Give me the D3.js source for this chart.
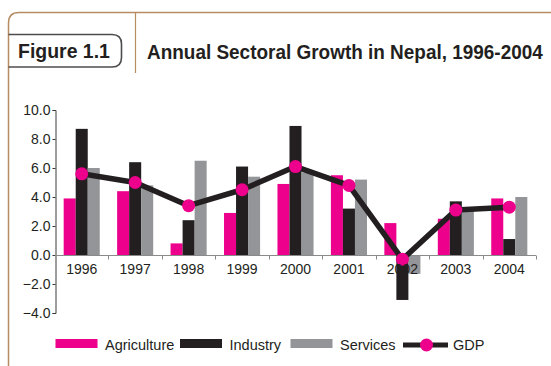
<!DOCTYPE html>
<html>
<head>
<meta charset="utf-8">
<script src="https://cdn.jsdelivr.net/npm/d3@7"></script>
<style>
  html, body { margin: 0; padding: 0; background: #fff; }
  svg { display: block; }
  .narrow { font-family: "Liberation Sans Narrow", "Arial Narrow", "Liberation Sans", Arial, sans-serif; }
  .plain { font-family: "Liberation Sans", Arial, sans-serif; }
</style>
</head>
<body>
<svg id="chart" width="551" height="366"></svg>
<script>
// Annual sectoral growth rates (%), Nepal
const years = ["1996", "1997", "1998", "1999", "2000", "2001", "2002", "2003", "2004"];
const agriculture = [3.9, 4.4, 0.8, 2.9, 4.9, 5.5, 2.2, 2.5, 3.9];
const industry    = [8.7, 6.4, 2.4, 6.1, 8.9, 3.2, -3.1, 3.7, 1.1];
const services    = [6.0, 4.8, 6.5, 5.4, 5.7, 5.2, -1.3, 3.1, 4.0];
const gdp         = [5.6, 5.0, 3.4, 4.5, 6.1, 4.8, -0.3, 3.1, 3.3];
const yTicks = [-4, -2, 0, 2, 4, 6, 8, 10];

const seriesNames = ["Agriculture", "Industry", "Services"];
const seriesValues = [agriculture, industry, services];
const colors = { Agriculture: "#ec008c", Industry: "#231f20", Services: "#939598", GDP: "#231f20" };

const frameColor = "#b68c60";
const ink = "#231f20";

const svg = d3.select("#chart");

// Heading text squeezed horizontally to a fixed width (condensed look)
function condensedText(parent, str, x0, y0, size, width) {
  const g = parent.append("g");
  const t = g.append("text").attr("class", "narrow")
    .attr("font-size", size).attr("font-weight", "bold").attr("fill", ink)
    .text(str);
  const natural = t.node().getComputedTextLength();
  const sx = Math.min(1, width / natural);
  g.attr("transform", `translate(${x0},${y0}) scale(${sx},1)`);
  return g;
}

// ---- frame and heading ----
const frame = svg.append("g");
frame.append("path")
  .attr("d", "M8.5,366 L8.5,23 Q8.5,12.5 19,12.5 L551,12.5")
  .attr("fill", "none").attr("stroke", frameColor).attr("stroke-width", 1.5);
frame.append("line")
  .attr("x1", 135.5).attr("x2", 135.5).attr("y1", 12.5).attr("y2", 73)
  .attr("stroke", frameColor).attr("stroke-width", 1.2);
frame.append("path")
  .attr("d", "M8.5,34.5 L112,34.5 Q121.5,34.5 121.5,44 L121.5,57.5 Q121.5,67 112,67 L8.5,67")
  .attr("fill", "none").attr("stroke", "#4d4d4f").attr("stroke-width", 1.6);
condensedText(frame, "Figure 1.1", 18, 58, 20, 92);
condensedText(frame, "Annual Sectoral Growth in Nepal, 1996-2004", 147, 58.5, 19.5, 396);

// ---- scales ----
const x = d3.scaleBand().domain(years).range([55, 536]);
const inner = d3.scaleBand().domain(seriesNames)
  .range([0, x.bandwidth() * 0.675]);
const groupOffset = (x.bandwidth() - inner.range()[1]) / 2;
const y = d3.scaleLinear().domain([-4, 10]).range([313, 110]);

const plot = svg.append("g");

// ---- bars ----
seriesNames.forEach((name, si) => {
  plot.append("g").selectAll("rect")
    .data(seriesValues[si].map((v, i) => ({ year: years[i], v })))
    .join("rect")
    .attr("x", d => x(d.year) + groupOffset + inner(name))
    .attr("width", inner.bandwidth())
    .attr("y", d => y(Math.max(0, d.v)))
    .attr("height", d => Math.abs(y(d.v) - y(0)))
    .attr("fill", colors[name]);
});

// ---- y axis ----
const yAxis = plot.append("g")
  .attr("transform", "translate(55.5,0)")
  .call(d3.axisLeft(y).tickValues(yTicks).tickFormat(d3.format(".1f")).tickSize(3).tickPadding(2));
yAxis.select(".domain").attr("stroke", "#3a3a3a");
yAxis.selectAll(".tick line").attr("stroke", "#3a3a3a");
yAxis.selectAll("text").attr("class", "plain").attr("font-size", 14).attr("fill", ink);

// ---- x axis along zero ----
const xAxisG = plot.append("g").attr("transform", `translate(0,${Math.round(y(0)) + 0.5})`);
xAxisG.append("line").attr("x1", 55).attr("x2", 536).attr("stroke", "#8a8a8a").attr("stroke-width", 1);
xAxisG.selectAll("line.tk")
  .data(years.slice(1).concat(["end"]))
  .join("line").attr("class", "tk")
  .attr("x1", (d, i) => Math.round(i < years.length - 1 ? x(d) : x.range()[1]) + 0.5)
  .attr("x2", (d, i) => Math.round(i < years.length - 1 ? x(d) : x.range()[1]) + 0.5)
  .attr("y1", 0).attr("y2", 4)
  .attr("stroke", "#8a8a8a");

// ---- GDP line ----
const line = d3.line()
  .x((d, i) => x(years[i]) + x.bandwidth() / 2)
  .y(d => y(d));
plot.append("path")
  .datum(gdp)
  .attr("d", line)
  .attr("fill", "none")
  .attr("stroke", colors.GDP)
  .attr("stroke-width", 5.5)
  .attr("stroke-linejoin", "round");
plot.append("g").selectAll("circle")
  .data(gdp)
  .join("circle")
  .attr("cx", (d, i) => x(years[i]) + x.bandwidth() / 2)
  .attr("cy", d => y(d))
  .attr("r", 6.5)
  .attr("fill", colors.Agriculture);

// ---- year labels ----
plot.append("g").selectAll("text")
  .data(years)
  .join("text")
  .attr("class", "plain")
  .attr("x", d => x(d) + x.bandwidth() / 2)
  .attr("y", 274)
  .attr("text-anchor", "middle")
  .attr("font-size", 14)
  .attr("fill", ink)
  .text(d => d);

// ---- legend ----
const legend = svg.append("g").attr("class", "plain");
const legendItems = [
  { name: "Agriculture", x: 55.5 },
  { name: "Industry", x: 180 },
  { name: "Services", x: 290.5 },
];
legendItems.forEach(it => {
  legend.append("rect")
    .attr("x", it.x).attr("y", 339).attr("width", 42).attr("height", 9)
    .attr("fill", colors[it.name]);
  legend.append("text")
    .attr("x", it.x + 49.5).attr("y", 349.5)
    .attr("font-size", 14.5).attr("fill", ink)
    .text(it.name);
});
legend.append("line")
  .attr("x1", 403).attr("x2", 448).attr("y1", 345).attr("y2", 345)
  .attr("stroke", colors.GDP).attr("stroke-width", 5);
legend.append("circle")
  .attr("cx", 426.5).attr("cy", 345).attr("r", 6.5)
  .attr("fill", colors.Agriculture);
legend.append("text")
  .attr("x", 453).attr("y", 349.5)
  .attr("font-size", 14.5).attr("fill", ink)
  .text("GDP");
</script>
</body>
</html>
